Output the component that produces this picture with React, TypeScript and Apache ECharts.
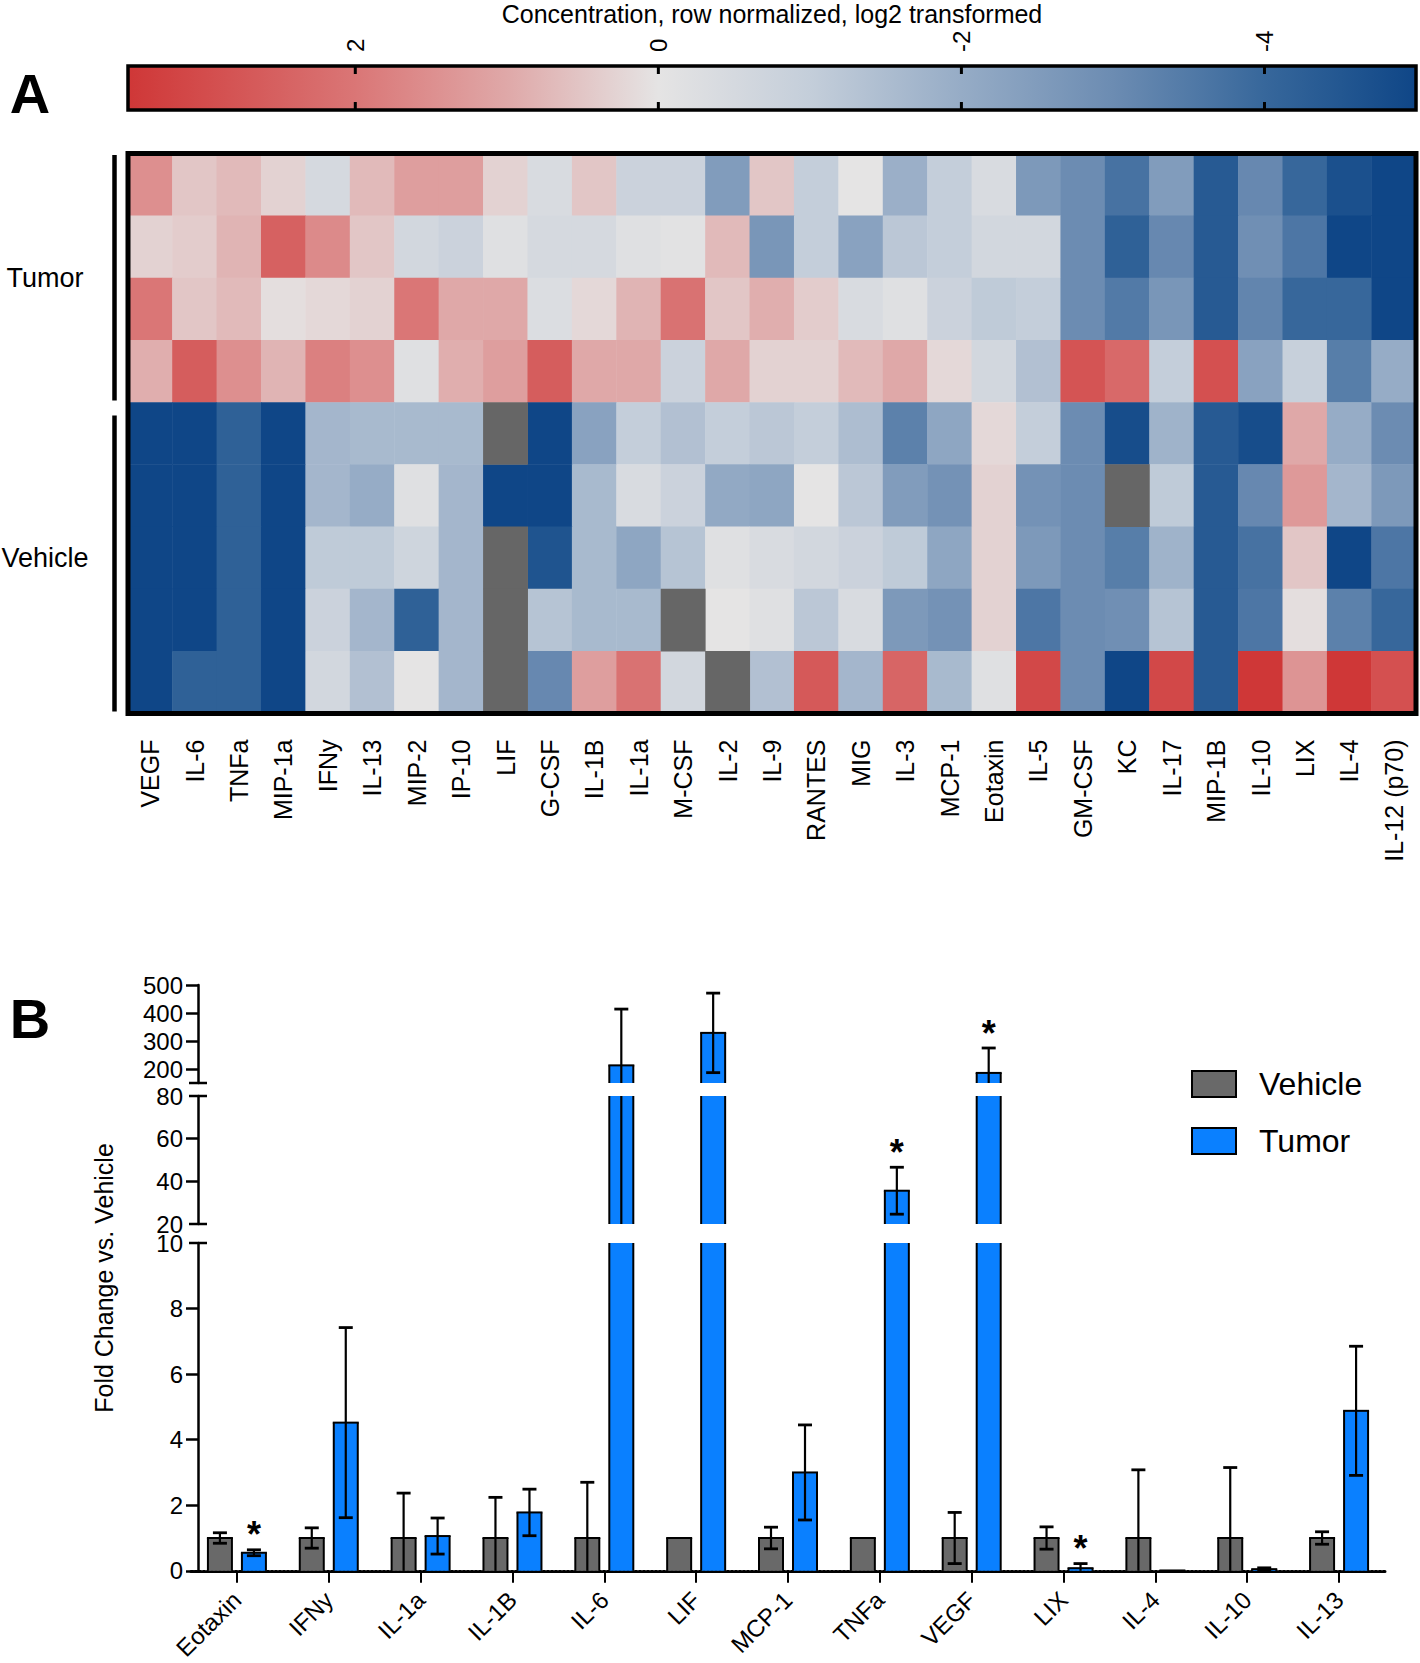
import React, { useEffect, useRef } from "react";
import * as echarts from "echarts";

// ---------------- DATA ----------------
const heatCols = ["VEGF", "IL-6", "TNFa", "MIP-1a", "IFNy", "IL-13", "MIP-2", "IP-10", "LIF", "G-CSF", "IL-1B", "IL-1a", "M-CSF", "IL-2", "IL-9", "RANTES", "MIG", "IL-3", "MCP-1", "Eotaxin", "IL-5", "GM-CSF", "KC", "IL-17", "MIP-1B", "IL-10", "LIX", "IL-4", "IL-12 (p70)"];
const heatRowNames = ["Tumor 1", "Tumor 2", "Tumor 3", "Tumor 4", "Vehicle 1", "Vehicle 2", "Vehicle 3", "Vehicle 4", "Vehicle 5"];

const tumor1 = [1.5, 0.5, 0.7, 0.3, -0.5, 0.7, 1.2, 1.2, 0.3, -0.4, 0.5, -0.8, -0.8, -2.5, 0.5, -1.0, 0.0, -1.9, -1.0, -0.4, -2.6, -3.0, -3.7, -2.5, -4.4, -3.1, -4.0, -4.7, -5.0];
const tumor2 = [0.3, 0.4, 0.8, 2.5, 1.6, 0.5, -0.6, -0.8, -0.2, -0.5, -0.5, -0.2, -0.1, 0.7, -2.7, -1.0, -2.3, -1.2, -1.0, -0.6, -0.6, -3.0, -4.2, -3.1, -4.4, -2.9, -3.6, -5.0, -5.0];
const tumor3 = [2.0, 0.5, 0.7, 0.1, 0.2, 0.3, 2.0, 1.0, 1.0, -0.3, 0.2, 0.8, 2.1, 0.5, 0.9, 0.4, -0.4, -0.2, -0.8, -1.1, -1.0, -3.0, -3.5, -2.7, -4.4, -3.2, -4.0, -4.0, -5.0];
const tumor4 = [0.9, 2.6, 1.5, 0.8, 1.8, 1.5, -0.2, 0.9, 1.2, 2.6, 1.0, 1.0, -0.8, 1.0, 0.3, 0.3, 0.7, 1.0, 0.2, -0.6, -1.4, 2.8, 2.3, -1.0, 2.9, -2.3, -0.9, -3.4, -2.0];
const vehicle1 = [-5.0, -5.0, -4.2, -5.0, -1.7, -1.6, -1.6, -1.6, null, -5.0, -2.3, -1.0, -1.4, -1.0, -1.2, -1.0, -1.5, -3.3, -2.2, 0.2, -1.0, -3.0, -4.8, -1.8, -4.4, -4.8, 1.0, -2.0, -3.0];
const vehicle2 = [-5.0, -5.0, -4.2, -5.0, -1.7, -2.0, -0.2, -1.7, -5.0, -5.0, -1.6, -0.4, -0.8, -2.1, -2.2, 0.0, -1.2, -2.5, -2.8, 0.3, -2.8, -3.0, null, -1.1, -4.4, -3.1, 1.3, -1.7, -2.6];
const vehicle3 = [-5.0, -5.0, -4.2, -5.0, -1.1, -1.1, -0.7, -1.7, null, -4.6, -1.6, -2.2, -1.3, -0.2, -0.4, -0.6, -0.8, -1.1, -2.2, 0.3, -2.6, -3.0, -3.4, -1.8, -4.4, -3.7, 0.5, -5.0, -3.6];
const vehicle4 = [-5.0, -5.0, -4.2, -5.0, -0.8, -1.7, -4.2, -1.7, null, -1.3, -1.6, -1.6, null, 0.0, -0.2, -1.2, -0.4, -2.6, -2.8, 0.3, -3.6, -3.0, -2.9, -1.3, -4.4, -3.6, 0.1, -3.3, -4.0];
const vehicle5 = [-5.0, -4.2, -4.2, -5.0, -0.6, -1.4, 0.0, -1.7, null, -3.1, 1.2, 2.1, -0.6, null, -1.4, 2.7, -1.7, 2.4, -1.6, -0.2, 3.1, -3.0, -5.0, 3.1, -4.4, 3.5, 1.4, 3.5, 2.9];

const colorbarTicks = [2, 0, -2, -4];
const colorMin = -5;
const colorMax = 3.5;

const barCats = ["Eotaxin", "IFNy", "IL-1a", "IL-1B", "IL-6", "LIF", "MCP-1", "TNFa", "VEGF", "LIX", "IL-4", "IL-10", "IL-13"];
const vehicleMean = [1, 1, 1, 1, 1, 1, 1, 1, 1, 1, 1, 1, 1];
const vehicleSD = [0.16, 0.31, 1.37, 1.24, 1.7, 0, 0.33, 0, 0.78, 0.34, 2.08, 2.15, 0.19];
const tumorMean = [0.55, 4.52, 1.06, 1.78, 213, 329, 3.0, 35.6, 186, 0.08, 0.01, 0.05, 4.88];
const tumorSD = [0.09, 2.9, 0.55, 0.71, 201, 142, 1.45, 11, 89, 0.14, 0, 0.04, 1.97];
const vehicleStar = [0, 0, 0, 0, 0, 0, 0, 0, 0, 0, 0, 0, 0];
const tumorStar = [1, 0, 0, 0, 0, 0, 0, 1, 1, 1, 0, 0, 0];

const segTopLabels = [200, 300, 400, 500];
const segMidLabels = [20, 40, 60, 80];
const segLowLabels = [0, 2, 4, 6, 8, 10];

// ---------------- STYLE / LAYOUT ----------------
const FONT = '"Liberation Sans", Arial, Helvetica, sans-serif';
const VEH_COLOR = "#696969";
const TUM_COLOR = "#0a80ff";
const MISSING_COLOR = "#666666";
const BAR_W = 24;
const BAR_OFF = 17;
const CAP = 14;
const ERR_W = 2.2;
const EDGE_W = 2;

const CB = { left: 128, top: 66, width: 1288, height: 44 };
const HM = { left: 128, top: 153.5, width: 1288, height: 560 };
const BX = { left: 191, width: 1194, axisShift: 7 };
const SEG = [
  { min: 150, max: 500, top: 985, height: 98, labels: segTopLabels, ticks: [200, 300, 400, 500] },
  { min: 20, max: 80, top: 1096, height: 128, labels: segMidLabels, ticks: [40, 60] },
  { min: 0, max: 10, top: 1243, height: 328, labels: segLowLabels, ticks: [0, 2, 4, 6, 8] },
];

const colorAnchors: [number, number[]][] = [
  [-5, [15, 70, 135]],
  [-4, [55, 103, 155]],
  [-3, [108, 140, 178]],
  [-2, [150, 172, 198]],
  [-1, [196, 206, 218]],
  [0, [229, 228, 228]],
  [1, [223, 168, 168]],
  [2, [218, 118, 118]],
  [3.5, [207, 55, 55]],
];

function colorAt(v: number): string {
  for (let k = 0; k < colorAnchors.length - 1; k++) {
    const [a, ca] = colorAnchors[k];
    const [b, cb] = colorAnchors[k + 1];
    if (v >= a && v <= b) {
      const t = (v - a) / (b - a);
      const c = ca.map((x, j) => Math.round(x + (cb[j] - x) * t));
      return `rgb(${c[0]},${c[1]},${c[2]})`;
    }
  }
  const c = v < colorAnchors[0][0] ? colorAnchors[0][1] : colorAnchors[colorAnchors.length - 1][1];
  return `rgb(${c[0]},${c[1]},${c[2]})`;
}

function buildOption() {
  const steps: number[] = [];
  for (let k = 0; k <= 17; k++) steps.push(colorMin + k * 0.5);
  const mapColors = steps.map(colorAt);
  const gradStops = steps
    .map((v) => ({ offset: (colorMax - v) / (colorMax - colorMin), color: colorAt(v) }))
    .sort((p, q) => p.offset - q.offset);

  const heatRows = [tumor1, tumor2, tumor3, tumor4, vehicle1, vehicle2, vehicle3, vehicle4, vehicle5];
  const heatData: number[][] = [];
  const missData: number[][] = [];
  heatRows.forEach((row, r) =>
    row.forEach((v, c) => {
      if (v === null) missData.push([c, r, 0]);
      else heatData.push([c, r, v as number]);
    })
  );

  const grids: any[] = [
    {
      left: CB.left, top: CB.top, width: CB.width, height: CB.height, show: true,
      backgroundColor: new echarts.graphic.LinearGradient(0, 0, 1, 0, gradStops),
      borderColor: "#000", borderWidth: 3.5,
    },
    { left: HM.left, top: HM.top, width: HM.width, height: HM.height },
    ...SEG.map((s) => ({ left: BX.left, width: BX.width, top: s.top, height: s.height })),
  ];

  const xAxes: any[] = [
    {
      type: "value", gridIndex: 0, min: colorMin, max: colorMax, inverse: true, position: "top",
      axisLine: { show: false }, splitLine: { show: false }, axisTick: { show: false },
      axisLabel: { show: true, rotate: 90, customValues: colorbarTicks, fontSize: 24, color: "#000", fontFamily: FONT, margin: 14, formatter: (v: number) => String(v) },
    },
    {
      type: "category", gridIndex: 1, data: heatCols, position: "bottom",
      axisLine: { show: false }, axisTick: { show: false }, splitLine: { show: false },
      axisLabel: { interval: 0, rotate: 90, fontSize: 25, color: "#000", fontFamily: FONT, margin: 26 },
    },
    ...SEG.map((s, i) => ({
      type: "category", gridIndex: 2 + i, data: barCats, position: "bottom",
      axisLine: i === 2 ? { show: true, lineStyle: { color: "#000", width: 3, type: [2, 2] } } : { show: false },
      axisTick: i === 2 ? { show: true, alignWithLabel: true, length: 12, lineStyle: { color: "#000", width: 2 } } : { show: false },
      axisLabel: i === 2 ? { show: true, interval: 0, rotate: 45, fontSize: 24, color: "#000", fontFamily: FONT, margin: 25 } : { show: false },
      splitLine: { show: false },
    })),
  ];

  const yAxes: any[] = [
    { type: "value", gridIndex: 0, min: 0, max: 1, show: false },
    { type: "category", gridIndex: 1, data: heatRowNames, inverse: true, show: false },
    ...SEG.map((s, i) => ({
      type: "value", gridIndex: 2 + i, min: s.min, max: s.max, offset: -BX.axisShift,
      axisLine: { show: true, lineStyle: { color: "#000", width: 2.5 } },
      axisTick: { show: true, length: 12, customValues: s.ticks, lineStyle: { color: "#000", width: 2.5 } },
      axisLabel: { show: true, customValues: s.labels, fontSize: 24, lineHeight: 17, color: "#000", fontFamily: FONT, margin: 15 },
      splitLine: { show: false },
    })),
  ];

  const line = (x1: number, y1: number, x2: number, y2: number, w = EDGE_W) => ({
    type: "line", shape: { x1, y1, x2, y2 }, style: { stroke: "#000", lineWidth: w },
  });

  const barSeries: any[] = [];
  SEG.forEach((seg, si) => {
    [0, 1].forEach((g) => {
      const means = g === 0 ? vehicleMean : tumorMean;
      const sds = g === 0 ? vehicleSD : tumorSD;
      const stars = g === 0 ? vehicleStar : tumorStar;
      const fill = g === 0 ? VEH_COLOR : TUM_COLOR;
      barSeries.push({
        type: "custom",
        name: g === 0 ? "Vehicle" : "Tumor",
        xAxisIndex: 2 + si,
        yAxisIndex: 2 + si,
        data: barCats.map((_, i) => [i, means[i], sds[i], stars[i]]),
        encode: { x: 0, y: 1 },
        itemStyle: { color: fill, borderColor: "#000", borderWidth: 2 },
        silent: true,
        renderItem: (params: any, api: any) => {
          const i = api.value(0);
          const mean = api.value(1);
          const sd = api.value(2);
          const star = api.value(3);
          const cx = api.coord([i, seg.min])[0] + (g === 0 ? -BAR_OFF : BAR_OFF);
          const y = (v: number) => api.coord([i, v])[1];
          const lo = Math.max(seg.min, 0);
          const children: any[] = [];
          if (mean > lo) {
            const yb = y(lo);
            const yt = y(Math.min(mean, seg.max));
            children.push({ type: "rect", shape: { x: cx - BAR_W / 2, y: yt, width: BAR_W, height: Math.max(yb - yt, 0.5) }, style: { fill } });
            children.push(line(cx - BAR_W / 2, yt, cx - BAR_W / 2, yb));
            children.push(line(cx + BAR_W / 2, yt, cx + BAR_W / 2, yb));
            if (mean <= seg.max) children.push(line(cx - BAR_W / 2 - 1, yt, cx + BAR_W / 2 + 1, yt));
          }
          const eHi = mean + sd;
          const eLo = mean - sd;
          if (sd > 0) {
            const a = Math.max(eLo, lo);
            const b = Math.min(eHi, seg.max);
            if (b > a) {
              children.push(line(cx, y(a), cx, y(b), ERR_W));
              if (eHi <= seg.max && eHi >= lo) children.push(line(cx - CAP / 2, y(eHi), cx + CAP / 2, y(eHi), 2.8));
              if (eLo >= lo && eLo <= seg.max) children.push(line(cx - CAP / 2, y(eLo), cx + CAP / 2, y(eLo), 2.8));
            }
          }
          if (star && eHi >= seg.min && eHi <= seg.max) {
            children.push({
              type: "text",
              style: { text: "*", x: cx, y: y(eHi) - 15, textAlign: "center", textVerticalAlign: "middle", fill: "#000", font: `bold 36px ${FONT}` },
            });
          }
          return { type: "group", children };
        },
      });
    });
  });

  const axisX = BX.left + BX.axisShift;
  const breakY = [SEG[0].top + SEG[0].height, SEG[1].top, SEG[1].top + SEG[1].height, SEG[2].top];
  const cbX = (v: number) => CB.left + ((colorMax - v) / (colorMax - colorMin)) * CB.width;

  const graphic: any[] = [
    { type: "text", x: CB.left + CB.width / 2, y: 14, style: { text: "Concentration, row normalized, log2 transformed", font: `25px ${FONT}`, fill: "#000", textAlign: "center", textVerticalAlign: "middle" } },
    ...colorbarTicks.flatMap((v) => [
      { type: "line", z: 50, shape: { x1: cbX(v), y1: CB.top, x2: cbX(v), y2: CB.top + 8 }, style: { stroke: "#000", lineWidth: 3 } },
      { type: "line", z: 50, shape: { x1: cbX(v), y1: CB.top + CB.height - 8, x2: cbX(v), y2: CB.top + CB.height }, style: { stroke: "#000", lineWidth: 3 } },
    ]),
    { type: "text", x: 30, y: 93, style: { text: "A", font: `bold 56px ${FONT}`, fill: "#000", textAlign: "center", textVerticalAlign: "middle" } },
    { type: "text", x: 30, y: 1018, style: { text: "B", font: `bold 56px ${FONT}`, fill: "#000", textAlign: "center", textVerticalAlign: "middle" } },
    { type: "rect", z: 100, shape: { x: HM.left, y: HM.top, width: HM.width, height: HM.height }, style: { fill: "none", stroke: "#000", lineWidth: 5 } },
    { type: "line", shape: { x1: 114.5, y1: HM.top + 1.5, x2: 114.5, y2: HM.top + (HM.height * 4) / 9 - 2 }, style: { stroke: "#000", lineWidth: 4.5 } },
    { type: "line", shape: { x1: 114.5, y1: HM.top + (HM.height * 4) / 9 + 13, x2: 114.5, y2: HM.top + HM.height - 2 }, style: { stroke: "#000", lineWidth: 4.5 } },
    { type: "text", x: 45, y: HM.top + (HM.height * 2) / 9, style: { text: "Tumor", font: `27px ${FONT}`, fill: "#000", textAlign: "center", textVerticalAlign: "middle" } },
    { type: "text", x: 45, y: HM.top + (HM.height * 6.5) / 9, style: { text: "Vehicle", font: `27px ${FONT}`, fill: "#000", textAlign: "center", textVerticalAlign: "middle" } },
    { type: "text", x: 104, y: 1278, rotation: Math.PI / 2, style: { text: "Fold Change vs. Vehicle", font: `25px ${FONT}`, fill: "#000", textAlign: "center", textVerticalAlign: "middle" } },
    ...breakY.map((by) => ({ type: "line", shape: { x1: axisX - 9, y1: by, x2: axisX + 9, y2: by }, style: { stroke: "#000", lineWidth: 2.5 } })),
  ];

  return {
    animation: false,
    backgroundColor: "#fff",
    textStyle: { fontFamily: FONT },
    grid: grids,
    xAxis: xAxes,
    yAxis: yAxes,
    visualMap: [
      {
        type: "continuous", show: false, seriesIndex: 0, dimension: 2,
        min: colorMin, max: colorMax, inRange: { color: mapColors },
      },
      {
        type: "continuous", show: false, seriesIndex: 1, dimension: 2,
        min: -1, max: 1, inRange: { color: [MISSING_COLOR, MISSING_COLOR] },
      },
    ],
    legend: {
      data: ["Vehicle", "Tumor"],
      orient: "vertical", left: 1186, top: 1063,
      icon: "rect", itemWidth: 44, itemHeight: 26, itemGap: 25,
      itemStyle: { borderColor: "#000", borderWidth: 2 },
      textStyle: { fontSize: 32, lineHeight: 32, color: "#000", fontFamily: FONT, padding: [0, 0, 0, 18] },
      selectedMode: false,
    },
    series: [
      { type: "heatmap", xAxisIndex: 1, yAxisIndex: 1, data: heatData, silent: true, emphasis: { disabled: true } },
      { type: "heatmap", xAxisIndex: 1, yAxisIndex: 1, data: missData, silent: true, emphasis: { disabled: true } },
      ...barSeries,
    ],
    graphic,
  };
}

export default function App() {
  const ref = useRef<HTMLDivElement>(null);
  useEffect(() => {
    document.body.style.margin = "0";
    const chart = echarts.init(ref.current as HTMLDivElement, undefined, { renderer: "svg" });
    chart.setOption(buildOption() as any);
    return () => chart.dispose();
  }, []);
  return <div ref={ref} style={{ width: 1420, height: 1663 }} />;
}
